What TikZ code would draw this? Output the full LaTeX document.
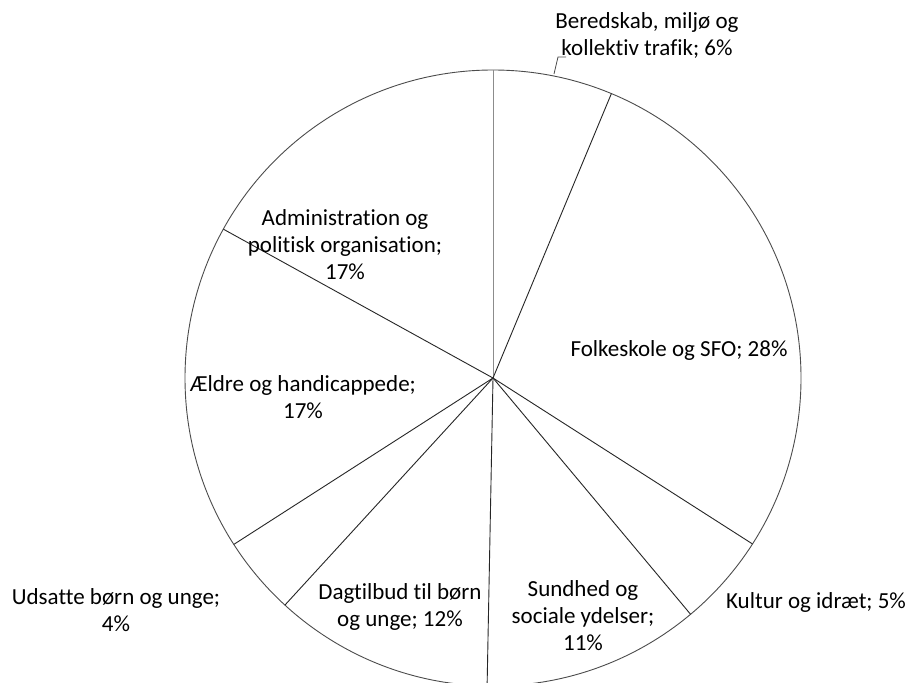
\documentclass[tikz,border=0pt]{standalone}
\usepackage{fontspec}
\setmainfont{Carlito}[Ligatures=NoCommon]
\begin{document}
\begin{tikzpicture}[x=1pt,y=-1pt,
  lbl/.style={font=\fontsize{23}{27}\selectfont, align=center, inner sep=0pt},
  slice/.style={draw=black!85, line width=0.9pt},
  firstslice/.style={draw=black!45, line width=0.8pt},
  rim/.style={draw=black!70, line width=0.9pt},
  leader/.style={draw=black!70, line width=0.8pt}]
\useasboundingbox (0,0) rectangle (909,682);
\clip (0,0) rectangle (909,682);
\coordinate (O) at (493,378);
\draw[rim, fill=white] (O) circle (308pt);
% slice boundaries
\path (O) ++(-90:308) coordinate (e0);
\path (O) ++(-67.4:308) coordinate (e1);
\path (O) ++(32.6:308) coordinate (e2);
\path (O) ++(50.1:308) coordinate (e3);
\path (O) ++(91.1:308) coordinate (e4);
\path (O) ++(132.5:308) coordinate (e5);
\path (O) ++(147.3:308) coordinate (e6);
\path (O) ++(208.9:308) coordinate (e7);
\draw[firstslice] (O) -- (e0);
\foreach \e in {e1,e2,e3,e4,e5,e6,e7} \draw[slice] (O) -- (\e);
% labels
\node[lbl] (beredskab) at (647,35) {Beredskab, miljø og\\kollektiv trafik; 6\%};
\node[lbl] (folkeskole) at (679,350) {Folkeskole og SFO; 28\%};
\node[lbl] (kultur) at (816,602) {Kultur og idræt; 5\%};
\node[lbl] (sundhed) at (583,616) {Sundhed og\\sociale ydelser;\\11\%};
\node[lbl] (dagtilbud) at (400,607) {Dagtilbud til børn\\og unge; 12\%};
\node[lbl] (udsatte) at (116,610) {Udsatte børn og unge;\\4\%};
\node[lbl] (aeldre) at (303,397) {Ældre og handicappede;\\17\%};
\node[lbl] (admin) at (345,245) {Administration og\\politisk organisation;\\17\%};
% leader line for the small slice
\coordinate (l0) at (554,74);
\coordinate (l1) at (558,57);
\coordinate (l2) at (566,57);
\draw[leader] (l0) -- (l1) -- (l2);
\end{tikzpicture}
\end{document}
